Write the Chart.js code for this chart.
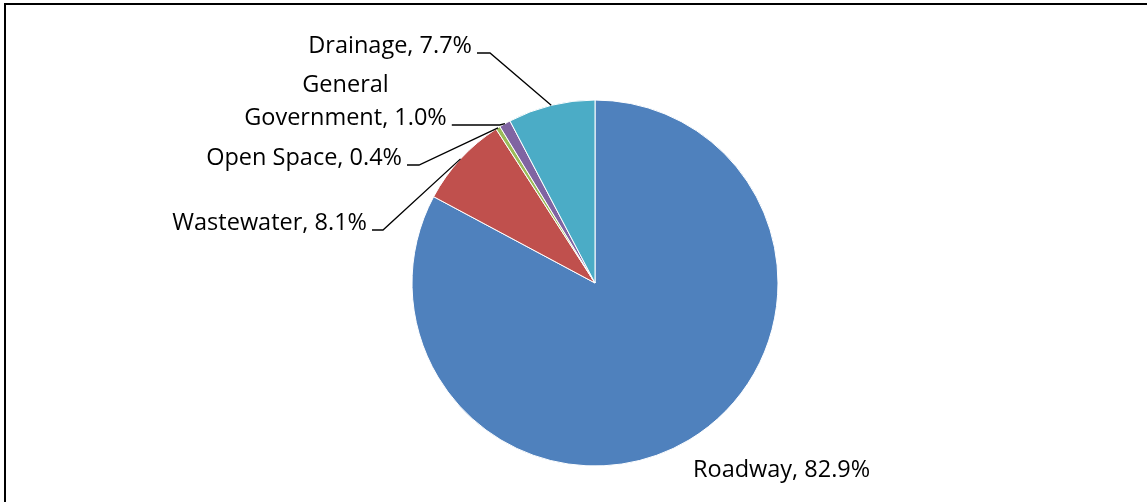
<!DOCTYPE html>
<html>
<head>
<meta charset="utf-8">
<script src="https://cdn.jsdelivr.net/npm/chart.js@4/dist/chart.umd.min.js"></script>
<style>
  body { margin: 0; background: #fff; }
  #wrap { position: relative; width: 1147px; height: 502px; }
  #frame {
    position: absolute; left: 4px; top: 3px; right: 0; bottom: 0;
    border-top: 2px solid #000; border-left: 2px solid #000;
    pointer-events: none;
  }
</style>
</head>
<body>
<div id="wrap">
  <canvas id="pie"></canvas>
  <div id="frame"></div>
</div>
<script>
'use strict';

// ---------- data ----------
let categories = ['Roadway', 'Wastewater', 'Open Space', 'General Government', 'Drainage'];
let shares = [82.9, 8.1, 0.4, 1.0, 7.7];
let sliceColors = ['#4F81BD', '#C0504D', '#9BBB59', '#8064A2', '#4BACC6'];

// where each label sits (baseline anchor) and how its leader bends
let labelSpots = [
  { x: 693, y: 477, align: 'left' },
  { x: 367, y: 230, align: 'right', leader: true, elbow: 11 },
  { x: 402, y: 165, align: 'right', leader: true, elbow: 12 },
  { x: 345.5, y: 125, align: 'center', wrap: true, leader: true, elbow: 48 },
  { x: 472, y: 53, align: 'right', leader: true, elbow: 13 }
];

// labels "Name, 0.0%" with leader lines out to the middle of each slice's rim
const pieLabels = {
  id: 'pieLabels',
  afterDatasetsDraw(chart, args, opts) {
    let ctx = chart.ctx;
    let arcs = chart.getDatasetMeta(0).data;
    let values = chart.data.datasets[0].data;
    ctx.save();
    ctx.font = opts.font;
    ctx.fillStyle = '#000';
    ctx.strokeStyle = '#000';
    ctx.lineWidth = 1.3;
    ctx.textBaseline = 'alphabetic';

    arcs.forEach(function (arc, i) {
      let spot = opts.spots[i];
      let name = chart.data.labels[i];
      let pct = values[i].toFixed(1) + '%';
      let lines = [name + ', ' + pct];
      if (spot.wrap) {
        let cut = name.indexOf(' ');
        lines = [name.slice(0, cut), name.slice(cut + 1) + ', ' + pct];
      }
      ctx.textAlign = spot.align;
      for (let k = 0; k < lines.length; k++) {
        ctx.fillText(lines[k], spot.x, spot.y - opts.lineGap * (lines.length - 1 - k));
      }

      if (!spot.leader) return;
      let w = ctx.measureText(lines[lines.length - 1]).width;
      let right = spot.x;
      if (spot.align === 'left') right = spot.x + w;
      if (spot.align === 'center') right = spot.x + w / 2;

      let p = arc.getProps(['x', 'y', 'startAngle', 'endAngle', 'outerRadius'], true);
      let mid = (p.startAngle + p.endAngle) / 2;
      let ex = p.x + Math.cos(mid) * p.outerRadius;
      let ey = p.y + Math.sin(mid) * p.outerRadius;

      let sx = right + 5;
      ctx.beginPath();
      ctx.moveTo(sx, spot.y);
      ctx.lineTo(sx + spot.elbow, spot.y);
      ctx.lineTo(ex, ey);
      ctx.stroke();
    });
    ctx.restore();
  }
};

let ctx = document.getElementById('pie').getContext('2d');
let myChart = new Chart(ctx, {
  type: 'pie',
  data: {
    labels: categories,
    datasets: [{
      data: shares,
      backgroundColor: sliceColors,
      borderColor: '#ffffff',
      borderWidth: 1
    }]
  },
  options: {
    responsive: true,
    maintainAspectRatio: false,
    animation: false,
    layout: {
      padding: { left: 411, right: 368, top: 99.5, bottom: 35.5 }
    },
    plugins: {
      legend: { display: false },
      tooltip: { enabled: false },
      pieLabels: {
        spots: labelSpots,
        font: '23.5px "Open Sans"',
        lineGap: 33
      }
    }
  },
  plugins: [pieLabels]
});
</script>
</body>
</html>
